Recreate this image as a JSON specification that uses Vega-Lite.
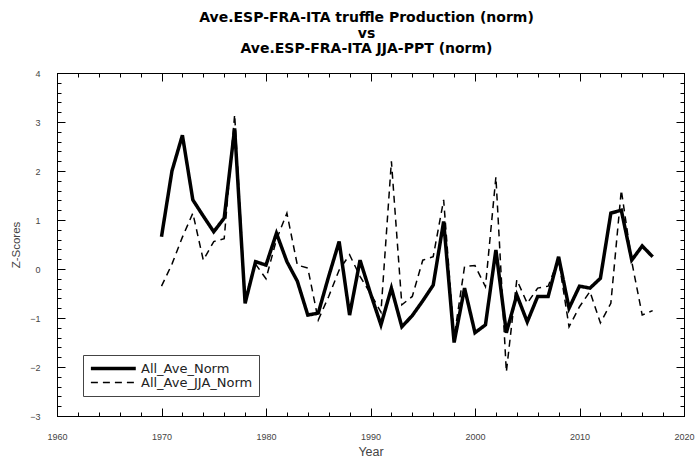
{
  "$schema": "https://vega.github.io/schema/vega-lite/v6.json",
  "width": 627,
  "height": 343,
  "autosize": {"type": "none"},
  "padding": {"left": 57, "top": 73, "right": 11, "bottom": 45},
  "background": "white",
  "title": {
    "text": ["Ave.ESP-FRA-ITA truffle Production (norm)", "vs", "Ave.ESP-FRA-ITA JJA-PPT (norm)"],
    "font": "DejaVu Sans",
    "fontSize": 14,
    "fontWeight": "bold",
    "lineHeight": 15.5,
    "color": "black",
    "anchor": "middle",
    "offset": 13,
    "dx": -4
  },
  "config": {
    "view": {"stroke": "black", "strokeWidth": 1, "strokeOpacity": 1},
    "style": {"cell": {"stroke": "black", "strokeWidth": 1, "strokeOpacity": 1}},
    "axis": {
      "grid": false,
      "domain": true,
      "ticks": true,
      "domainColor": "black",
      "domainOpacity": 1,
      "domainWidth": 1,
      "tickColor": "black",
      "tickOpacity": 1,
      "tickWidth": 1,
      "labelFlush": false,
      "labelFont": "Liberation Sans",
      "titleFont": "Liberation Sans",
      "labelColor": "#444",
      "titleColor": "#444",
      "labelFontSize": 9,
      "titleFontWeight": "normal"
    }
  },
  "data": {
    "values": [
      {"Year": 1970, "series": "All_Ave_Norm", "value": 0.66},
      {"Year": 1971, "series": "All_Ave_Norm", "value": 2.0},
      {"Year": 1972, "series": "All_Ave_Norm", "value": 2.73},
      {"Year": 1973, "series": "All_Ave_Norm", "value": 1.41},
      {"Year": 1974, "series": "All_Ave_Norm", "value": 1.08},
      {"Year": 1975, "series": "All_Ave_Norm", "value": 0.76},
      {"Year": 1976, "series": "All_Ave_Norm", "value": 1.04},
      {"Year": 1977, "series": "All_Ave_Norm", "value": 2.87},
      {"Year": 1978, "series": "All_Ave_Norm", "value": -0.7},
      {"Year": 1979, "series": "All_Ave_Norm", "value": 0.15},
      {"Year": 1980, "series": "All_Ave_Norm", "value": 0.08},
      {"Year": 1981, "series": "All_Ave_Norm", "value": 0.73},
      {"Year": 1982, "series": "All_Ave_Norm", "value": 0.15},
      {"Year": 1983, "series": "All_Ave_Norm", "value": -0.25},
      {"Year": 1984, "series": "All_Ave_Norm", "value": -0.94},
      {"Year": 1985, "series": "All_Ave_Norm", "value": -0.9},
      {"Year": 1986, "series": "All_Ave_Norm", "value": -0.15},
      {"Year": 1987, "series": "All_Ave_Norm", "value": 0.56},
      {"Year": 1988, "series": "All_Ave_Norm", "value": -0.94},
      {"Year": 1989, "series": "All_Ave_Norm", "value": 0.18},
      {"Year": 1990, "series": "All_Ave_Norm", "value": -0.5},
      {"Year": 1991, "series": "All_Ave_Norm", "value": -1.14},
      {"Year": 1992, "series": "All_Ave_Norm", "value": -0.39},
      {"Year": 1993, "series": "All_Ave_Norm", "value": -1.18},
      {"Year": 1994, "series": "All_Ave_Norm", "value": -0.95},
      {"Year": 1995, "series": "All_Ave_Norm", "value": -0.65},
      {"Year": 1996, "series": "All_Ave_Norm", "value": -0.33},
      {"Year": 1997, "series": "All_Ave_Norm", "value": 0.97},
      {"Year": 1998, "series": "All_Ave_Norm", "value": -1.5},
      {"Year": 1999, "series": "All_Ave_Norm", "value": -0.39},
      {"Year": 2000, "series": "All_Ave_Norm", "value": -1.3},
      {"Year": 2001, "series": "All_Ave_Norm", "value": -1.14},
      {"Year": 2002, "series": "All_Ave_Norm", "value": 0.39},
      {"Year": 2003, "series": "All_Ave_Norm", "value": -1.3},
      {"Year": 2004, "series": "All_Ave_Norm", "value": -0.53},
      {"Year": 2005, "series": "All_Ave_Norm", "value": -1.08},
      {"Year": 2006, "series": "All_Ave_Norm", "value": -0.56},
      {"Year": 2007, "series": "All_Ave_Norm", "value": -0.56},
      {"Year": 2008, "series": "All_Ave_Norm", "value": 0.25},
      {"Year": 2009, "series": "All_Ave_Norm", "value": -0.8},
      {"Year": 2010, "series": "All_Ave_Norm", "value": -0.35},
      {"Year": 2011, "series": "All_Ave_Norm", "value": -0.39},
      {"Year": 2012, "series": "All_Ave_Norm", "value": -0.19},
      {"Year": 2013, "series": "All_Ave_Norm", "value": 1.14},
      {"Year": 2014, "series": "All_Ave_Norm", "value": 1.2},
      {"Year": 2015, "series": "All_Ave_Norm", "value": 0.18},
      {"Year": 2016, "series": "All_Ave_Norm", "value": 0.47},
      {"Year": 2017, "series": "All_Ave_Norm", "value": 0.25},
      {"Year": 1970, "series": "All_Ave_JJA_Norm", "value": -0.35},
      {"Year": 1971, "series": "All_Ave_JJA_Norm", "value": 0.1},
      {"Year": 1972, "series": "All_Ave_JJA_Norm", "value": 0.65},
      {"Year": 1973, "series": "All_Ave_JJA_Norm", "value": 1.14},
      {"Year": 1974, "series": "All_Ave_JJA_Norm", "value": 0.18},
      {"Year": 1975, "series": "All_Ave_JJA_Norm", "value": 0.56},
      {"Year": 1976, "series": "All_Ave_JJA_Norm", "value": 0.62},
      {"Year": 1977, "series": "All_Ave_JJA_Norm", "value": 3.15},
      {"Year": 1978, "series": "All_Ave_JJA_Norm", "value": -0.6},
      {"Year": 1979, "series": "All_Ave_JJA_Norm", "value": 0.1},
      {"Year": 1980, "series": "All_Ave_JJA_Norm", "value": -0.2},
      {"Year": 1981, "series": "All_Ave_JJA_Norm", "value": 0.6},
      {"Year": 1982, "series": "All_Ave_JJA_Norm", "value": 1.14},
      {"Year": 1983, "series": "All_Ave_JJA_Norm", "value": 0.08},
      {"Year": 1984, "series": "All_Ave_JJA_Norm", "value": 0.02},
      {"Year": 1985, "series": "All_Ave_JJA_Norm", "value": -1.04},
      {"Year": 1986, "series": "All_Ave_JJA_Norm", "value": -0.56},
      {"Year": 1987, "series": "All_Ave_JJA_Norm", "value": -0.02},
      {"Year": 1988, "series": "All_Ave_JJA_Norm", "value": 0.29},
      {"Year": 1989, "series": "All_Ave_JJA_Norm", "value": -0.15},
      {"Year": 1990, "series": "All_Ave_JJA_Norm", "value": -0.5},
      {"Year": 1991, "series": "All_Ave_JJA_Norm", "value": -0.88},
      {"Year": 1992, "series": "All_Ave_JJA_Norm", "value": 2.2},
      {"Year": 1993, "series": "All_Ave_JJA_Norm", "value": -0.73},
      {"Year": 1994, "series": "All_Ave_JJA_Norm", "value": -0.56},
      {"Year": 1995, "series": "All_Ave_JJA_Norm", "value": 0.18},
      {"Year": 1996, "series": "All_Ave_JJA_Norm", "value": 0.25},
      {"Year": 1997, "series": "All_Ave_JJA_Norm", "value": 1.41},
      {"Year": 1998, "series": "All_Ave_JJA_Norm", "value": -1.4},
      {"Year": 1999, "series": "All_Ave_JJA_Norm", "value": 0.05},
      {"Year": 2000, "series": "All_Ave_JJA_Norm", "value": 0.07},
      {"Year": 2001, "series": "All_Ave_JJA_Norm", "value": -0.36},
      {"Year": 2002, "series": "All_Ave_JJA_Norm", "value": 1.88},
      {"Year": 2003, "series": "All_Ave_JJA_Norm", "value": -2.1},
      {"Year": 2004, "series": "All_Ave_JJA_Norm", "value": -0.22},
      {"Year": 2005, "series": "All_Ave_JJA_Norm", "value": -0.7},
      {"Year": 2006, "series": "All_Ave_JJA_Norm", "value": -0.39},
      {"Year": 2007, "series": "All_Ave_JJA_Norm", "value": -0.35},
      {"Year": 2008, "series": "All_Ave_JJA_Norm", "value": 0.2},
      {"Year": 2009, "series": "All_Ave_JJA_Norm", "value": -1.18},
      {"Year": 2010, "series": "All_Ave_JJA_Norm", "value": -0.77},
      {"Year": 2011, "series": "All_Ave_JJA_Norm", "value": -0.46},
      {"Year": 2012, "series": "All_Ave_JJA_Norm", "value": -1.1},
      {"Year": 2013, "series": "All_Ave_JJA_Norm", "value": -0.7},
      {"Year": 2014, "series": "All_Ave_JJA_Norm", "value": 1.61},
      {"Year": 2015, "series": "All_Ave_JJA_Norm", "value": 0.15},
      {"Year": 2016, "series": "All_Ave_JJA_Norm", "value": -0.94},
      {"Year": 2017, "series": "All_Ave_JJA_Norm", "value": -0.85}
    ]
  },
  "layer": [
    {
      "mark": {"type": "line", "color": "black", "strokeJoin": "miter"},
      "encoding": {
        "x": {
          "field": "Year", "type": "quantitative",
          "scale": {"domain": [1960, 2020], "nice": false, "zero": false},
          "axis": {"orient": "bottom", "values": [1960, 1970, 1980, 1990, 2000, 2010, 2020], "format": "d", "tickSize": -8, "labelPadding": 24, "title": "Year", "titleFontSize": 12.5, "titlePadding": 4}
        },
        "y": {
          "field": "value", "type": "quantitative",
          "scale": {"domain": [-3, 4], "nice": false, "zero": false},
          "axis": {"orient": "left", "values": [-3, -2, -1, 0, 1, 2, 3, 4], "tickSize": -8, "labelPadding": 25, "title": "Z-Scores", "titleFontSize": 11.5, "titlePadding": 8}
        },
        "strokeDash": {
          "field": "series", "type": "nominal",
          "scale": {"domain": ["All_Ave_Norm", "All_Ave_JJA_Norm"], "range": [[1, 0], [7, 5]]},
          "legend": {"orient": "none", "legendX": 26, "legendY": 282, "title": null, "symbolType": "M-1,0H7", "symbolSize": 126, "symbolStrokeColor": "black", "symbolFillColor": "transparent", "labelFont": "DejaVu Sans", "labelFontSize": 13, "labelColor": "#222", "strokeColor": "#444", "fillColor": "white", "padding": 6, "rowPadding": -1, "labelOffset": 37}
        },
        "strokeWidth": {
          "field": "series", "type": "nominal",
          "scale": {"domain": ["All_Ave_Norm", "All_Ave_JJA_Norm"], "range": [3.5, 1.5]},
          "legend": {"orient": "none", "legendX": 26, "legendY": 282, "title": null, "symbolType": "M-1,0H7", "symbolSize": 126, "symbolStrokeColor": "black", "symbolFillColor": "transparent", "labelFont": "DejaVu Sans", "labelFontSize": 13, "labelColor": "#222", "strokeColor": "#444", "fillColor": "white", "padding": 6, "rowPadding": -1, "labelOffset": 37}
        }
      }
    },
    {
      "mark": {"type": "point", "opacity": 0},
      "encoding": {
        "x": {"field": "Year", "type": "quantitative", "axis": {"orient": "top", "values": [1960, 1970, 1980, 1990, 2000, 2010, 2020], "labels": false, "tickSize": -8, "title": null}},
        "y": {"field": "value", "type": "quantitative", "axis": {"orient": "right", "values": [-3, -2, -1, 0, 1, 2, 3, 4], "labels": false, "tickSize": -8, "title": null}}
      }
    },
    {
      "mark": {"type": "point", "opacity": 0},
      "encoding": {
        "x": {"field": "Year", "type": "quantitative", "axis": {"orient": "bottom", "values": [1962, 1964, 1966, 1968, 1972, 1974, 1976, 1978, 1982, 1984, 1986, 1988, 1992, 1994, 1996, 1998, 2002, 2004, 2006, 2008, 2012, 2014, 2016, 2018], "labels": false, "tickSize": -4, "title": null}},
        "y": {"field": "value", "type": "quantitative", "axis": {"orient": "left", "values": [-2.8, -2.6, -2.4, -2.2, -1.8, -1.6, -1.4, -1.2, -0.8, -0.6, -0.4, -0.2, 0.2, 0.4, 0.6, 0.8, 1.2, 1.4, 1.6, 1.8, 2.2, 2.4, 2.6, 2.8, 3.2, 3.4, 3.6, 3.8], "labels": false, "tickSize": -4, "title": null}}
      }
    },
    {
      "mark": {"type": "point", "opacity": 0},
      "encoding": {
        "x": {"field": "Year", "type": "quantitative", "axis": {"orient": "top", "values": [1962, 1964, 1966, 1968, 1972, 1974, 1976, 1978, 1982, 1984, 1986, 1988, 1992, 1994, 1996, 1998, 2002, 2004, 2006, 2008, 2012, 2014, 2016, 2018], "labels": false, "tickSize": -4, "title": null}},
        "y": {"field": "value", "type": "quantitative", "axis": {"orient": "right", "values": [-2.8, -2.6, -2.4, -2.2, -1.8, -1.6, -1.4, -1.2, -0.8, -0.6, -0.4, -0.2, 0.2, 0.4, 0.6, 0.8, 1.2, 1.4, 1.6, 1.8, 2.2, 2.4, 2.6, 2.8, 3.2, 3.4, 3.6, 3.8], "labels": false, "tickSize": -4, "title": null}}
      }
    }
  ],
  "resolve": {"axis": {"x": "independent", "y": "independent"}}
}
